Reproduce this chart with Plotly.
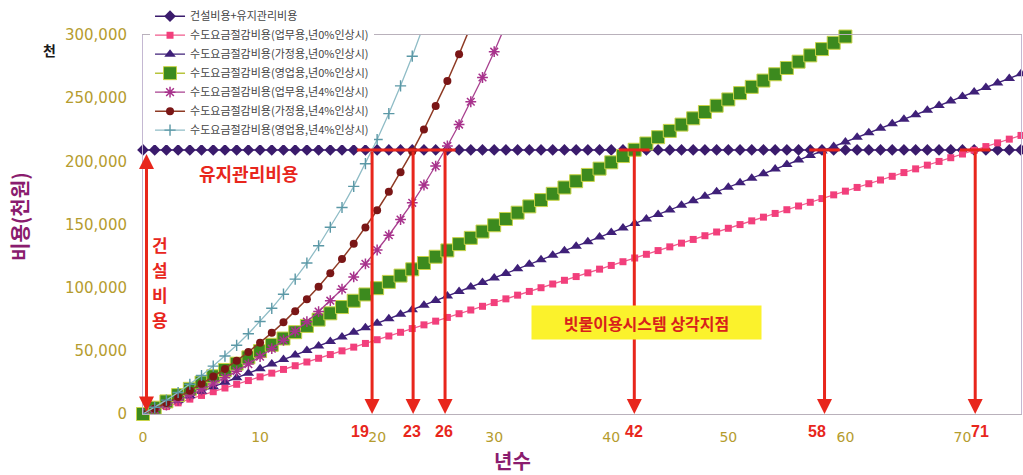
import plotly.graph_objects as go

# ---- data (values in thousand won) ----
years = list(range(0, 76))

# construction + maintenance cost, flat over the whole period
total_cost = 209000

# water-bill savings, no annual price increase
office_0 = [0, 2940, 5880, 8820, 11760, 14700, 17640, 20580, 23520, 26460, 29400,
            32340, 35280, 38220, 41160, 44100, 47040, 49980, 52920, 55860, 58800,
            61740, 64680, 67620, 70560, 73500, 76440, 79380, 82320, 85260, 88200,
            91140, 94080, 97020, 99960, 102900, 105840, 108780, 111720, 114660, 117600,
            120540, 123480, 126420, 129360, 132300, 135240, 138180, 141120, 144060, 147000,
            149940, 152880, 155820, 158760, 161700, 164640, 167580, 170520, 173460, 176400,
            179340, 182280, 185220, 188160, 191100, 194040, 196980, 199920, 202860, 205800,
            208740, 211680, 214620, 217560, 220500]
home_0 = [0, 3590, 7180, 10770, 14360, 17950, 21540, 25130, 28720, 32310, 35900,
          39490, 43080, 46670, 50260, 53850, 57440, 61030, 64620, 68210, 71800,
          75390, 78980, 82570, 86160, 89750, 93340, 96930, 100520, 104110, 107700,
          111290, 114880, 118470, 122060, 125650, 129240, 132830, 136420, 140010, 143600,
          147190, 150780, 154370, 157960, 161550, 165140, 168730, 172320, 175910, 179500,
          183090, 186680, 190270, 193860, 197450, 201040, 204630, 208220, 211810, 215400,
          218990, 222580, 226170, 229760, 233350, 236940, 240530, 244120, 247710, 251300,
          254890, 258480, 262070, 265660, 269250]
business_0 = [0, 4980, 9960, 14940, 19920, 24900, 29880, 34860, 39840, 44820, 49800,
              54780, 59760, 64740, 69720, 74700, 79680, 84660, 89640, 94620, 99600,
              104580, 109560, 114540, 119520, 124500, 129480, 134460, 139440, 144420, 149400,
              154380, 159360, 164340, 169320, 174300, 179280, 184260, 189240, 194220, 199200,
              204180, 209160, 214140, 219120, 224100, 229080, 234060, 239040, 244020, 249000,
              253980, 258960, 263940, 268920, 273900, 278880, 283860, 288840, 293820, 298800]

# water-bill savings, 4% annual price increase
office_4 = [0, 3380, 6980, 10800, 14870, 19200, 23810, 28720, 33930, 39490, 45390,
            51670, 58370, 65480, 73060, 81110, 89680, 98800, 108500, 118830, 129810,
            141500, 153940, 167170, 181250, 196230, 212170, 229130, 247170, 266360, 286790,
            308520]
home_4 = [0, 4200, 8670, 13420, 18480, 23860, 29590, 35690, 42170, 49070, 56400,
          64240, 72530, 81370, 90780, 100790, 111440, 122770, 134830, 147660, 161280,
          175830, 191280, 207720, 225220, 243840, 263640, 284720, 307130]
business_4 = [0, 5300, 10970, 17030, 23530, 30480, 37910, 45870, 54380, 63490, 73230,
              83660, 94810, 106740, 119510, 133170, 147810, 163450, 180190, 198110, 217280,
              237790, 259740, 283210, 308330]

series_names = [
    "건설비용+유지관리비용",
    "수도요금절감비용(업무용,년0%인상시)",
    "수도요금절감비용(가정용,년0%인상시)",
    "수도요금절감비용(영업용,년0%인상시)",
    "수도요금절감비용(업무용,년4%인상시)",
    "수도요금절감비용(가정용,년4%인상시)",
    "수도요금절감비용(영업용,년4%인상시)",
]

# payback years written next to the arrows
payback_labels = [19, 23, 26, 42, 58, 71]
# small horizontal nudges (px) for those labels
label_nudge = [-5, 0, -3, -1, -5, 6]

x_ticks = [0, 10, 20, 30, 40, 50, 60, 70]
y_ticks = [0, 50000, 100000, 150000, 200000, 250000, 300000]

RED = "#e8261c"
GOLD = "#b59c2e"
PURPLE = "#8a1c6e"
KR = "Noto Sans CJK KR"


def crossing(values, level):
    """Fractional year where a cumulative series first reaches level."""
    for i in range(1, len(values)):
        if values[i] >= level:
            v0, v1 = values[i - 1], values[i]
            return (i - 1) + (level - v0) / (v1 - v0)
    return None


fig = go.Figure()

fig.add_trace(go.Scatter(
    x=years, y=[total_cost] * len(years), name=series_names[0], mode="lines+markers",
    line=dict(color="#3a1b6c", width=1.5),
    marker=dict(symbol="diamond", size=9, color="#3a1b6c"),
    cliponaxis=False))
fig.add_trace(go.Scatter(
    x=years[:len(office_0)], y=office_0, name=series_names[1], mode="lines+markers",
    line=dict(color="#f05a8c", width=1.3),
    marker=dict(symbol="square", size=7, color="#f23f7c"),
    cliponaxis=False))
fig.add_trace(go.Scatter(
    x=years[:len(home_0)], y=home_0, name=series_names[2], mode="lines+markers",
    line=dict(color="#3f2078", width=1.3),
    marker=dict(symbol="triangle-up", size=10, color="#3f2078"),
    cliponaxis=False))
fig.add_trace(go.Scatter(
    x=years[:len(business_0)], y=business_0, name=series_names[3], mode="lines+markers",
    line=dict(color="#b7c43c", width=1.5),
    marker=dict(symbol="square", size=13, color="#3c8a1e",
                line=dict(color="#c9d449", width=1)),
    cliponaxis=False))
fig.add_trace(go.Scatter(
    x=years[:len(office_4)], y=office_4, name=series_names[4], mode="lines+markers",
    line=dict(color="#a8408f", width=1.3),
    marker=dict(symbol="asterisk-open", size=9, color="#a8328c",
                line=dict(color="#a8328c", width=1.5))))
fig.add_trace(go.Scatter(
    x=years[:len(home_4)], y=home_4, name=series_names[5], mode="lines+markers",
    line=dict(color="#8e3a24", width=1.5),
    marker=dict(symbol="circle", size=8, color="#7a1616")))
fig.add_trace(go.Scatter(
    x=years[:len(business_4)], y=business_4, name=series_names[6], mode="lines+markers",
    line=dict(color="#8fbcc6", width=1.3),
    marker=dict(symbol="cross-thin-open", size=8, color="#5b98a6",
                line=dict(color="#5b98a6", width=1.4))))

# ---- payback arrows ----
curves_in_order = [business_4, home_4, office_4, business_0, home_0, office_0]
cross_x = [crossing(c, total_cost) for c in curves_in_order]

annotations = []
shapes = []
for cx in cross_x:
    annotations.append(dict(
        x=cx, y=0, ax=cx, ay=total_cost, xref="x", yref="y", axref="x", ayref="y",
        text="", showarrow=True, arrowhead=2, arrowsize=1, arrowwidth=3,
        arrowcolor=RED, standoff=0))

# red bars along the cost line around each crossing
shapes.append(dict(type="line", xref="x", yref="y", x0=cross_x[0] - 1.3, x1=cross_x[2] + 0.9,
                   y0=total_cost, y1=total_cost, line=dict(color=RED, width=3)))
for cx in cross_x[3:]:
    shapes.append(dict(type="line", xref="x", yref="y", x0=cx - 1.3, x1=cx + 1.3,
                       y0=total_cost, y1=total_cost, line=dict(color=RED, width=3)))

# construction-cost double arrow at the start
annotations.append(dict(
    x=0.3, y=2000, ax=0.3, ay=total_cost - 2000, xref="x", yref="y", axref="x", ayref="y",
    text="", showarrow=True, arrowhead=2, arrowside="end+start", arrowsize=1,
    arrowwidth=3, arrowcolor=RED, standoff=0, startstandoff=0))

for yr, nudge in zip(payback_labels, label_nudge):
    annotations.append(dict(
        x=yr, y=-0.047, xref="x", yref="paper", text=f"<b>{yr}</b>", showarrow=False,
        font=dict(family="Liberation Sans", size=16, color=RED),
        xanchor="center", yanchor="middle", xshift=nudge))


def label(x, y, text, size, color, **kw):
    return dict(x=x, y=y, xref="paper", yref="paper", text=text, showarrow=False,
                xanchor="center", yanchor="middle",
                font=dict(family=KR, size=size, color=color), **kw)


# "건설비용" written vertically, one syllable per row
vertical_word = "건설비용"
vertical_rows = [0.4470, 0.3811, 0.3152, 0.2494]
for ch, ry in zip(vertical_word, vertical_rows):
    annotations.append(label(0.0194, ry, f"<b>{ch}</b>", 17, RED))

annotations += [
    label(0.1196, 0.6357, "<b>유지관리비용</b>", 18, RED),
    label(0.5729, 0.2403, "<b>빗물이용시스템 상각지점</b>", 16, "#d8201c",
          bgcolor="#fbf22c", width=225, height=29, borderpad=2),
    label(-0.106, 0.961, "<b>천</b>", 14, "#1a1a1a"),
    label(-0.140, 0.52, "<b>비용(천원)</b>", 20, PURPLE, textangle=-90),
    label(0.4214, -0.124, "<b>년수</b>", 20, PURPLE),
]

fig.update_layout(
    width=1023, height=475,
    margin=dict(l=143, r=2, t=27, b=61),
    paper_bgcolor="white", plot_bgcolor="white",
    showlegend=True,
    legend=dict(x=0.008, y=1.088, xanchor="left", yanchor="top",
                bgcolor="rgba(255,255,255,1)", borderwidth=0,
                font=dict(family=KR, size=11, color="#444444"),
                tracegroupgap=0),
    annotations=annotations,
    shapes=shapes,
    xaxis=dict(range=[0, 75], tickvals=x_ticks, showgrid=False, zeroline=False,
               showline=True, mirror=True, linecolor="#b9b1bb", linewidth=1,
               ticks="", ticklabelstandoff=10,
               tickfont=dict(family="DejaVu Sans", size=14, color=GOLD)),
    yaxis=dict(range=[0, 300000], tickvals=y_ticks, tickformat=",", showgrid=False,
               zeroline=False, showline=True, mirror=True, linecolor="#c4b8d2", linewidth=1,
               ticks="", ticklabelstandoff=12,
               tickfont=dict(family="DejaVu Sans", size=15, color=GOLD)),
)

fig.write_html("out.html")
